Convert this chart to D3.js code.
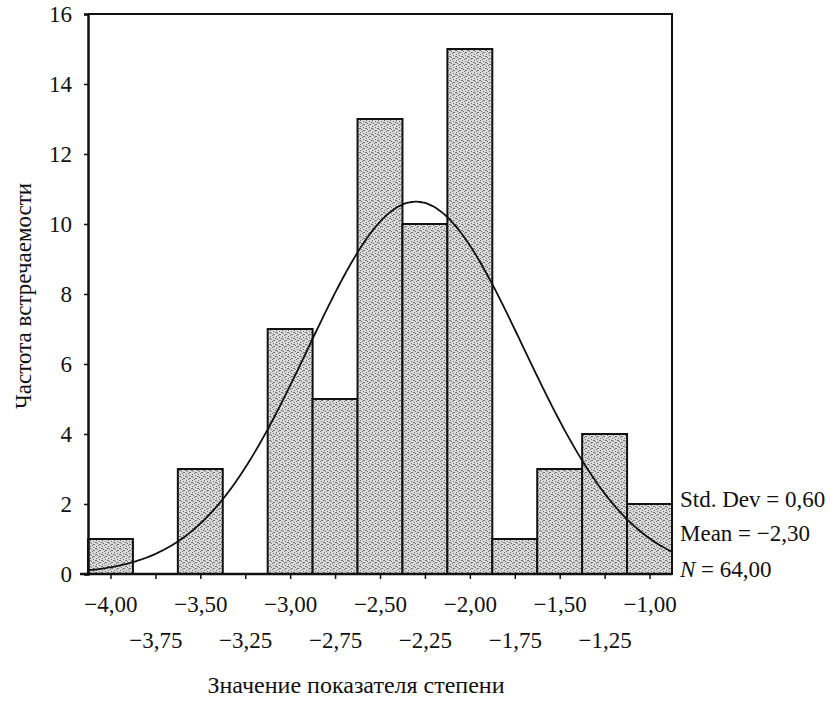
<!DOCTYPE html>
<html>
<head>
<meta charset="utf-8">
<script src="https://cdn.jsdelivr.net/npm/d3@7"></script>
<style>
  body { margin: 0; background: #fff; }
  text { font-family: "Liberation Serif", "DejaVu Serif", serif; fill: #111; }
</style>
</head>
<body>
<div id="chart"></div>
<script>
// histogram bins (centres) and frequencies
const binCenters = [-4.00, -3.75, -3.50, -3.25, -3.00, -2.75, -2.50, -2.25, -2.00, -1.75, -1.50, -1.25, -1.00];
const counts = [1, 0, 3, 0, 7, 5, 13, 10, 15, 1, 3, 4, 2];
const binWidth = 0.25;
const yTicks = [0, 2, 4, 6, 8, 10, 12, 14, 16];
const statLabels = ["Std. Dev = 0,60", "Mean = \u22122,30", "N = 64,00"];
const stdDev = 0.60, mean = -2.30, nTotal = 64;

const width = 834, height = 701;
const plotLeft = 88, plotRight = 672, plotTop = 14, plotBottom = 574;

const svg = d3.select("#chart").append("svg")
    .attr("width", width)
    .attr("height", height);

const x = d3.scaleLinear()
    .domain([binCenters[0] - binWidth / 2, binCenters[binCenters.length - 1] + binWidth / 2])
    .range([plotLeft, plotRight]);
const y = d3.scaleLinear().domain([0, 16]).range([plotBottom, plotTop]);

const locale = d3.formatLocale({decimal: ",", thousands: " ", grouping: [3], currency: ["", ""], minus: "\u2212"});
const fmt = locale.format(".2f");

// stipple pattern for bars
const defs = svg.append("defs");
const pat = defs.append("pattern")
    .attr("id", "stipple")
    .attr("width", 6).attr("height", 6)
    .attr("patternUnits", "userSpaceOnUse");
pat.append("rect").attr("width", 6).attr("height", 6).attr("fill", "#dadada");
[[0, 0], [3, 1], [5, 2], [1, 3], [4, 4], [2, 5], [0, 2], [3, 4]].forEach(p => {
    pat.append("rect").attr("x", p[0]).attr("y", p[1])
        .attr("width", 1).attr("height", 1).attr("fill", "#707070");
});

// bars
svg.append("g")
    .selectAll("rect")
    .data(binCenters.map((c, i) => ({c: c, n: counts[i]})).filter(d => d.n > 0))
    .enter()
    .append("rect")
    .attr("x", d => x(d.c - binWidth / 2))
    .attr("y", d => y(d.n))
    .attr("width", d => x(d.c + binWidth / 2) - x(d.c - binWidth / 2))
    .attr("height", d => y(0) - y(d.n))
    .attr("fill", "url(#stipple)")
    .attr("stroke", "#111")
    .attr("stroke-width", 2);

// fitted normal curve from the stated mean / sd / N
const scaleF = nTotal * binWidth / (stdDev * Math.sqrt(2 * Math.PI));
const xs = d3.range(x.domain()[0], x.domain()[1] + 0.001, 0.01);
svg.append("path")
    .datum(xs)
    .attr("fill", "none")
    .attr("stroke", "#111")
    .attr("stroke-width", 1.8)
    .attr("d", d3.line()
        .x(v => x(v))
        .y(v => y(scaleF * Math.exp(-0.5 * Math.pow((v - mean) / stdDev, 2))))
        .curve(d3.curveBasis));

// frame: top and right
svg.append("path")
    .attr("d", `M${plotLeft},${plotTop}H${plotRight}V${plotBottom}`)
    .attr("fill", "none")
    .attr("stroke", "#111")
    .attr("stroke-width", 2);

// y axis
const yAxis = svg.append("g")
    .attr("transform", `translate(${plotLeft},0)`)
    .call(d3.axisLeft(y).tickValues(yTicks).tickSize(4).tickPadding(12).tickFormat(d3.format("d")));
yAxis.select(".domain").attr("stroke", "#111").attr("stroke-width", 2.5);
yAxis.selectAll(".tick line").attr("stroke", "#111").attr("stroke-width", 1.5);
yAxis.selectAll("text").style("font-size", "23px").attr("fill", "#111");

// x axis
const xAxis = svg.append("g")
    .attr("transform", `translate(0,${plotBottom})`)
    .call(d3.axisBottom(x).tickValues(binCenters).tickSize(5).tickPadding(14).tickFormat(fmt));
xAxis.select(".domain").attr("d", `M${plotLeft - 8},0H${plotRight}`).attr("stroke", "#111").attr("stroke-width", 2.5);
xAxis.selectAll(".tick line").attr("stroke", "#111").attr("stroke-width", 1.5);
xAxis.selectAll("text")
    .style("font-size", "23px")
    .attr("fill", "#111")
    .attr("y", (d, i) => i % 2 === 0 ? 22 : 58);

// stats
const st = svg.append("g").attr("transform", "translate(680,0)");
st.append("text").attr("y", 507).style("font-size", "23px").text(statLabels[0]);
st.append("text").attr("y", 541).style("font-size", "23px").text(statLabels[1]);
const nText = st.append("text").attr("y", 577).style("font-size", "23px");
nText.append("tspan").style("font-style", "italic").text(statLabels[2].slice(0, 1));
nText.append("tspan").text(statLabels[2].slice(1));

// axis titles
svg.append("text")
    .attr("x", 356).attr("y", 693)
    .attr("text-anchor", "middle")
    .style("font-size", "24px")
    .text("Значение показателя степени");

svg.append("text")
    .attr("transform", "translate(31,296) rotate(-90)")
    .attr("text-anchor", "middle")
    .style("font-size", "23px")
    .text("Частота встречаемости");
</script>
</body>
</html>
